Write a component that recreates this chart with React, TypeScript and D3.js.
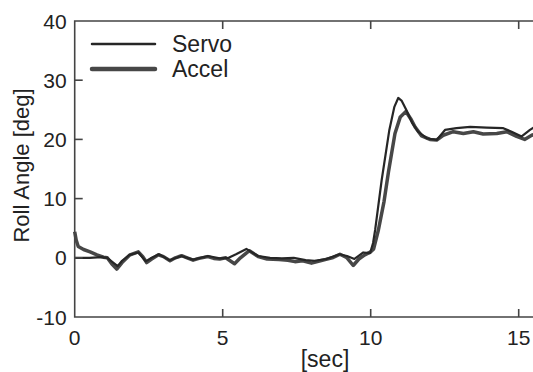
import React, { useRef, useEffect } from "react";
import * as d3 from "d3";

// time [sec] and roll angle [deg]
const servoTime = [0, 0.5, 0.9, 1.1, 1.3, 1.45, 1.6, 1.85, 2.15, 2.4, 2.6, 2.85, 3.2, 3.6, 4.0, 4.5, 4.9, 5.2, 5.45, 5.8, 6.2, 6.6, 7.0, 7.4, 7.8, 8.1, 8.5, 8.95, 9.2, 9.45, 9.75, 9.98, 10.08, 10.15, 10.37, 10.63, 10.8, 10.93, 11.05, 11.2, 11.4, 11.6, 11.89, 12.23, 12.51, 12.9, 13.36, 13.92, 14.48, 14.76, 15.1, 15.38, 15.5];
const servoRoll = [0, 0, 0.1, 0, -0.8, -1.4, -0.5, 0.5, 0.9, -0.6, 0, 0.6, -0.4, 0.3, -0.3, 0.3, -0.1, 0, 0.6, 1.5, 0.3, 0, -0.1, 0, -0.4, -0.5, -0.2, 0.6, 0.3, -0.2, 0.9, 0.8, 2.5, 4.7, 13.1, 21.6, 25.5, 27.0, 26.5, 25.0, 22.8, 21.3, 20.2, 19.9, 21.6, 21.9, 22.1, 22.0, 21.9, 21.3, 20.5, 21.6, 22.0];

const accelTime = [0, 0.05, 0.12, 0.3, 0.52, 0.75, 0.97, 1.1, 1.25, 1.42, 1.6, 1.87, 2.15, 2.3, 2.43, 2.6, 2.83, 3.0, 3.22, 3.4, 3.61, 3.8, 4.0, 4.2, 4.5, 4.7, 4.9, 5.1, 5.4, 5.6, 5.9, 6.2, 6.5, 6.9, 7.2, 7.44, 7.7, 8.0, 8.3, 8.46, 8.7, 8.96, 9.2, 9.41, 9.6, 9.8, 10.0, 10.1, 10.26, 10.45, 10.6, 10.82, 11.0, 11.19, 11.35, 11.5, 11.72, 12.0, 12.23, 12.45, 12.79, 13.13, 13.47, 13.8, 14.26, 14.6, 14.93, 15.2, 15.44, 15.5];
const accelRoll = [4.4, 3.0, 1.9, 1.4, 1.0, 0.5, 0.1, 0, -1.0, -1.9, -0.8, 0.5, 1.0, 0.2, -0.8, -0.2, 0.5, 0.2, -0.5, 0, 0.35, 0, -0.4, -0.1, 0.2, -0.1, -0.2, 0, -1.0, 0, 1.2, 0.2, -0.2, -0.3, -0.4, -0.65, -0.5, -0.9, -0.5, -0.3, 0, 0.6, 0, -1.3, -0.2, 0.5, 1.0, 1.5, 4.7, 9.5, 14.5, 21.0, 23.8, 24.7, 23.5, 22.1, 20.6, 20.0, 19.9, 20.7, 21.3, 21.0, 21.3, 20.9, 21.0, 21.3, 20.5, 20.0, 20.7, 20.8];

const xTicks = [0, 5, 10, 15];
const yTicks = [-10, 0, 10, 20, 30, 40];
const legendNames = ["Servo", "Accel"];

const App = () => {
  const svgRef = useRef(null);

  useEffect(() => {
    document.body.style.margin = "0";
    const svg = d3.select(svgRef.current);
    svg.selectAll("*").remove();

    const font = "'Liberation Sans', Arial, sans-serif";
    const axisColor = "#444";
    const left = 74.7, right = 533.5, top = 21, bottom = 317;

    const x = d3.scaleLinear().domain([0, 15.5]).range([left, right]);
    const y = d3.scaleLinear().domain([-10, 40]).range([bottom, top]);

    svg.append("rect").attr("width", 533).attr("height", 372).attr("fill", "#fff");

    // plot lines
    const line = d3.line().x((d) => x(d[0])).y((d) => y(d[1]));
    const servo = servoTime.map((t, i) => [t, servoRoll[i]]);
    const accel = accelTime.map((t, i) => [t, accelRoll[i]]);

    svg.append("path").datum(accel).attr("d", line)
      .attr("fill", "none").attr("stroke", "#474747").attr("stroke-width", 3.5)
      .attr("stroke-linejoin", "round");
    svg.append("path").datum(servo).attr("d", line)
      .attr("fill", "none").attr("stroke", "#262626").attr("stroke-width", 2.2)
      .attr("stroke-linejoin", "round");

    // frame
    const frame = svg.append("g").attr("stroke", axisColor).attr("stroke-width", 1.6).attr("fill", "none");
    frame.append("path").attr("d", `M${right},${top}H${left}V${bottom}H${right}`);

    // ticks point inward
    const tickLen = 8;
    xTicks.slice(1).forEach((t) => {
      frame.append("line").attr("x1", x(t)).attr("x2", x(t)).attr("y1", bottom).attr("y2", bottom - tickLen);
      frame.append("line").attr("x1", x(t)).attr("x2", x(t)).attr("y1", top).attr("y2", top + tickLen);
    });
    yTicks.slice(1, -1).forEach((v) => {
      frame.append("line").attr("x1", left).attr("x2", left + tickLen).attr("y1", y(v)).attr("y2", y(v));
    });

    // tick labels
    svg.append("g").selectAll("text").data(yTicks).enter().append("text")
      .attr("x", left - 8).attr("y", (d) => y(d)).attr("dy", "0.36em")
      .attr("text-anchor", "end").attr("font-family", font).attr("font-size", 21).attr("fill", "#222")
      .text((d) => d);
    svg.append("g").selectAll("text").data(xTicks).enter().append("text")
      .attr("x", (d) => x(d)).attr("y", 345)
      .attr("text-anchor", "middle").attr("font-family", font).attr("font-size", 21).attr("fill", "#222")
      .text((d) => d);

    // axis titles
    svg.append("text").attr("x", 325).attr("y", 367).attr("text-anchor", "middle")
      .attr("font-family", font).attr("font-size", 23).attr("fill", "#222").text("[sec]");
    svg.append("text").attr("transform", "translate(29,165.5) rotate(-90)").attr("text-anchor", "middle")
      .attr("font-family", font).attr("font-size", 22).attr("fill", "#222").text("Roll Angle [deg]");

    // legend
    const legend = svg.append("g");
    const legendItems = legend.selectAll("g").data(legendNames).enter().append("g")
      .attr("transform", (d, i) => `translate(0,${44 + i * 25})`);
    legendItems.append("line").attr("x1", 92).attr("x2", 155).attr("y1", 0).attr("y2", 0)
      .attr("stroke", (d, i) => (i === 0 ? "#262626" : "#474747"))
      .attr("stroke-width", (d, i) => (i === 0 ? 2.5 : 4.5))
      .attr("stroke-linecap", "round");
    legendItems.append("text").attr("x", 172).attr("y", 7.8)
      .attr("font-family", font).attr("font-size", 23).attr("fill", "#222")
      .text((d) => d);
  }, []);

  return <svg ref={svgRef} width={533} height={372} style={{ display: "block" }}></svg>;
};

export default App;
